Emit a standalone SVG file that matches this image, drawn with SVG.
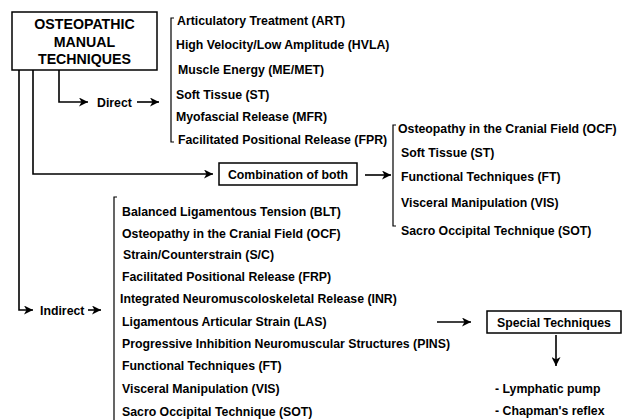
<svg xmlns="http://www.w3.org/2000/svg" width="626" height="420" viewBox="0 0 626 420">
<style>
text{font-family:"Liberation Sans",Arial,sans-serif;font-weight:bold;font-size:12.3px;fill:#000}
.t{font-size:14.2px;text-anchor:middle}
.box{fill:#fff;stroke:#000;stroke-width:1.5}
.ln{fill:none;stroke:#000;stroke-width:1.6}
.br{fill:none;stroke:#000;stroke-width:1.2}
</style>
<defs>
<marker id="ah" markerWidth="10" markerHeight="9" refX="9" refY="4.5" orient="auto" markerUnits="userSpaceOnUse">
<path d="M0,0 L9,4.5 L0,9 L2.5,4.5 z" fill="#000"/>
</marker>
</defs>
<g id="connectors">
<path class="ln" d="M19,70 V310 H33" marker-end="url(#ah)"/>
<path class="ln" d="M33,70 V174 H213" marker-end="url(#ah)"/>
<path class="ln" d="M59,70 V102 H88" marker-end="url(#ah)"/>
<path class="ln" d="M137,102 H159" marker-end="url(#ah)"/>
<path class="ln" d="M365,175 H391" marker-end="url(#ah)"/>
<path class="ln" d="M88,310 H101" marker-end="url(#ah)"/>
<path class="ln" d="M437,322 H471" marker-end="url(#ah)"/>
<path class="ln" d="M556,335 V366" marker-end="url(#ah)"/>
</g>
<g id="omt">
<rect class="box" x="12" y="12" width="145" height="58"/>
<text class="t" x="84.5" y="29">OSTEOPATHIC</text>
<text class="t" x="84.5" y="46.5">MANUAL</text>
<text class="t" x="84.5" y="64">TECHNIQUES</text>
</g>
<g id="direct">
<text x="97" y="107">Direct</text>
</g>
<g id="direct-list">
<path class="br" d="M174,18 H171 V142 H174"/>
<text x="177" y="25">Articulatory Treatment (ART)</text>
<text x="176" y="49">High Velocity/Low Amplitude (HVLA)</text>
<text x="178" y="74">Muscle Energy (ME/MET)</text>
<text x="176" y="99">Soft Tissue (ST)</text>
<text x="176" y="121">Myofascial Release (MFR)</text>
<text x="178" y="144">Facilitated Positional Release (FPR)</text>
</g>
<g id="combination">
<rect class="box" x="219" y="163" width="138" height="22"/>
<text x="288" y="179" text-anchor="middle">Combination of both</text>
</g>
<g id="combination-list">
<path class="br" d="M396,125 H393 V226 H396"/>
<text x="398" y="133">Osteopathy in the Cranial Field (OCF)</text>
<text x="401" y="157">Soft Tissue (ST)</text>
<text x="401" y="181">Functional Techniques (FT)</text>
<text x="401" y="207">Visceral Manipulation (VIS)</text>
<text x="401" y="235">Sacro Occipital Technique (SOT)</text>
</g>
<g id="indirect">
<text x="40" y="315">Indirect</text>
</g>
<g id="indirect-list">
<path class="br" d="M117,197 H114 V420"/>
<text x="122" y="216">Balanced Ligamentous Tension (BLT)</text>
<text x="122" y="238">Osteopathy in the Cranial Field (OCF)</text>
<text x="123" y="259">Strain/Counterstrain (S/C)</text>
<text x="122" y="281">Facilitated Positional Release (FRP)</text>
<text x="120" y="303">Integrated Neuromuscoloskeletal Release (INR)</text>
<text x="122" y="326">Ligamentous Articular Strain (LAS)</text>
<text x="122" y="348">Progressive Inhibition Neuromuscular Structures (PINS)</text>
<text x="122" y="370">Functional Techniques (FT)</text>
<text x="122" y="393">Visceral Manipulation (VIS)</text>
<text x="122" y="416">Sacro Occipital Technique (SOT)</text>
</g>
<g id="special">
<rect class="box" x="487" y="311" width="134" height="22"/>
<text x="554" y="326.5" text-anchor="middle">Special Techniques</text>
</g>
<g id="special-list">
<text x="495" y="393">- Lymphatic pump</text>
<text x="495" y="415">- Chapman's reflex</text>
</g>
</svg>
